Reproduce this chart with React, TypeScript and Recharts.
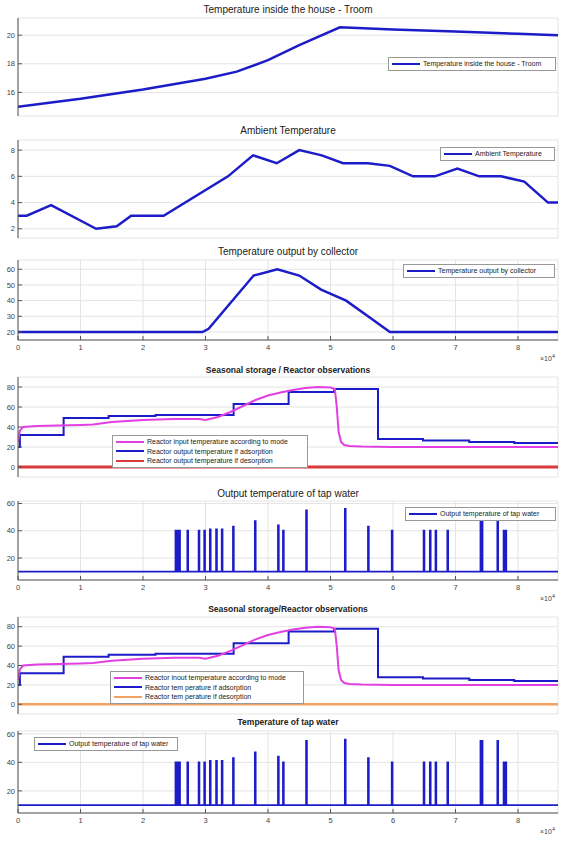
import React from 'react';
import { LineChart, Line, XAxis, YAxis, CartesianGrid } from 'recharts';

const X_MAX = 86400;
const xTicks = [0, 10000, 20000, 30000, 40000, 50000, 60000, 70000, 80000];

// Temperature inside the house
const troomTime = [0, 10000, 20000, 30000, 35000, 40000, 45000, 51500, 60000, 70000, 80000, 86400];
const troomTemp = [15.0, 15.55, 16.2, 16.95, 17.45, 18.25, 19.3, 20.55, 20.4, 20.25, 20.1, 20.0];

// Ambient temperature
const ambTime = [0, 1400, 5300, 12500, 15800, 18100, 23300, 33600, 37600, 41400, 45000, 48600, 52000, 56000, 59500, 63200, 66700, 70300, 73800, 77300, 81000, 84800, 86400];
const ambTemp = [3.0, 3.0, 3.8, 2.0, 2.2, 3.0, 3.0, 6.0, 7.6, 7.0, 8.0, 7.6, 7.0, 7.0, 6.8, 6.0, 6.0, 6.6, 6.0, 6.0, 5.6, 4.0, 4.0];

// Collector output
const colTime = [0, 29500, 30500, 37700, 41500, 45000, 48500, 52500, 56000, 59500, 86400];
const colTemp = [20, 20, 22, 56, 60, 56, 47, 40, 30, 20, 20];

// Reactor input temperature according to mode
const inTime = [0, 300, 800, 3000, 10000, 12000, 15000, 20000, 25000, 29000, 30000, 32000, 34000, 36000, 38000, 40000, 42000, 44000, 46000, 48000, 50000, 50700, 51000, 51300, 51700, 52200, 53000, 55000, 60000, 86400];
const inTemp = [25, 36, 40, 41, 42, 42.5, 45, 47, 48, 48, 47, 50, 55, 61, 67, 71.5, 74.5, 77, 79, 80, 79.5, 78, 60, 35, 25, 22, 21, 20.5, 20, 20];

// Reactor output temperature if adsorption (steps)
const adsTime = [0, 300, 7300, 14500, 22000, 34500, 43300, 50600, 57600, 64800, 72200, 79400, 86400];
const adsTemp = [20, 32, 49, 51, 52, 63, 75, 78, 28, 26.5, 25, 24, 24];

// Reactor output temperature if desorption
const desTime = [0, 86400];
const desTemp = [0, 0];

// Tap water draw-offs
const tapBase = 10;
const tapPulse = 120;
const tapTime = [25200, 25500, 25800, 27100, 28900, 29800, 30700, 31700, 32600, 34400, 37900, 41600, 42400, 46100, 52300, 56000, 59800, 64900, 65900, 66800, 68700, 74000, 74200, 76700, 77700, 78000];
const tapTemp = [40, 40, 40, 40, 40, 40, 41, 41, 41, 43, 47, 44, 40, 55, 56, 43, 40, 40, 40, 40, 40, 55, 55, 55, 40, 40];

const pts = (xs: number[], ys: number[]) => xs.map((x, i) => ({ x, y: ys[i] }));

const tapData = (() => {
  const out = [{ x: 0, y: tapBase }];
  tapTime.forEach((t, i) => {
    out.push({ x: t, y: tapBase }, { x: t, y: tapTemp[i] }, { x: t + tapPulse, y: tapTemp[i] }, { x: t + tapPulse, y: tapBase });
  });
  out.push({ x: X_MAX, y: tapBase });
  return out;
})();

const BLUE = '#1c1cc8';
const MAGENTA = '#e23fe2';
const RED = '#d93b3b';
const ORANGE = '#f2a262';
const AXIS = '#555';
const FONT = '"Liberation Sans", Arial, sans-serif';

type Series = { data: { x: number; y: number }[]; color: string; width: number; step?: boolean };
type LegendItem = { label: string; color: string; width: number };
type PanelProps = {
  top: number;
  bottom: number;
  domain: [number, number];
  yTicks: number[];
  title: string;
  titleY: number;
  bold?: boolean;
  xLabels?: boolean;
  series: Series[];
  legend: { left: number; top: number; width: number; items: LegendItem[] };
};

const Panel = ({ top, bottom, domain, yTicks, title, titleY, bold, xLabels, series, legend }: PanelProps) => {
  const boxH = bottom - top;
  const axisH = xLabels ? 24 : 0;
  const tickStyle = { fontSize: 7.5, fill: '#444', fontFamily: FONT };
  return (
    <>
      <div
        style={{
          position: 'absolute', left: 18, width: 540, top: titleY - 6, textAlign: 'center',
          fontFamily: FONT, fontSize: bold ? 8.5 : 10, fontWeight: bold ? 'bold' : 'normal',
          color: '#222', lineHeight: '12px', whiteSpace: 'nowrap',
        }}
      >
        {title}
      </div>
      <div style={{ position: 'absolute', left: 0, top }}>
        <LineChart width={563} height={boxH + axisH} margin={{ top: 0, right: 5, bottom: 0, left: 0 }}>
          <CartesianGrid stroke="#e4e4e4" />
          <XAxis
            dataKey="x" type="number" domain={[0, X_MAX]} ticks={xTicks} allowDataOverflow
            height={axisH} tickSize={-4} tickMargin={9} tick={xLabels ? tickStyle : false}
            tickFormatter={(v: number) => String(v / 10000)}
            stroke={AXIS} interval={0}
          />
          <XAxis xAxisId="top" orientation="top" dataKey="x" type="number" domain={[0, X_MAX]} ticks={xTicks}
            height={0} tickSize={-4} tick={false} stroke={AXIS} interval={0} />
          <YAxis type="number" domain={domain} ticks={yTicks} allowDataOverflow width={18}
            tickSize={-4} tickMargin={7} tick={tickStyle} stroke={AXIS} interval={0} />
          <YAxis yAxisId="r" orientation="right" type="number" domain={domain} ticks={yTicks} allowDataOverflow
            width={0} tickSize={-4} tick={false} stroke={AXIS} interval={0} />
          {series.map((s, i) => (
            <Line key={i} data={s.data} dataKey="y" type={s.step ? 'stepAfter' : 'linear'} stroke={s.color}
              strokeWidth={s.width} dot={false} activeDot={false} isAnimationActive={false} />
          ))}
        </LineChart>
      </div>
      {xLabels && (
        <div style={{ position: 'absolute', left: 540, top: bottom + 13, fontFamily: FONT, fontSize: 7, color: '#444' }}>
          ×10<sup style={{ fontSize: 5.5 }}>4</sup>
        </div>
      )}
      <div
        style={{
          position: 'absolute', left: legend.left, top: legend.top, width: legend.width,
          background: '#fff', border: '1px solid #999', padding: '1px 0', boxSizing: 'border-box',
        }}
      >
        {legend.items.map((it, i) => (
          <div key={i} style={{ display: 'flex', alignItems: 'center', height: 9.5 }}>
            <div style={{ width: 28, height: it.width, background: it.color, marginLeft: 3, marginRight: 3 }} />
            <span style={{ fontFamily: FONT, fontSize: 7, color: '#222', whiteSpace: 'nowrap' }}>{it.label}</span>
          </div>
        ))}
      </div>
    </>
  );
};

const App = () => {
  const tap: Series[] = [{ data: tapData, color: BLUE, width: 1.8 }];
  return (
    <div style={{ position: 'absolute', left: 0, top: 0, width: 563, height: 841, background: '#fff', overflow: 'hidden' }}>
      <style>{'.recharts-surface{overflow:visible}'}</style>
      <Panel
        top={18} bottom={116} domain={[14.35, 21.2]} yTicks={[16, 18, 20]}
        title="Temperature inside the house - Troom" titleY={10}
        series={[{ data: pts(troomTime, troomTemp), color: BLUE, width: 2.5 }]}
        legend={{ left: 388, top: 57, width: 168, items: [{ label: 'Temperature inside the house - Troom', color: BLUE, width: 2 }] }}
      />
      <Panel
        top={140} bottom={238} domain={[1.3, 8.77]} yTicks={[2, 4, 6, 8]}
        title="Ambient Temperature" titleY={131}
        series={[{ data: pts(ambTime, ambTemp), color: BLUE, width: 2.5 }]}
        legend={{ left: 440, top: 147, width: 115, items: [{ label: 'Ambient Temperature', color: BLUE, width: 2 }] }}
      />
      <Panel
        top={260} bottom={340} domain={[14.9, 65.9]} yTicks={[20, 30, 40, 50, 60]}
        title="Temperature output by collector" titleY={252} xLabels
        series={[{ data: pts(colTime, colTemp), color: BLUE, width: 2.5 }]}
        legend={{ left: 403, top: 264, width: 152, items: [{ label: 'Temperature output by collector', color: BLUE, width: 2 }] }}
      />
      <Panel
        top={377} bottom={477} domain={[-10, 90]} yTicks={[0, 20, 40, 60, 80]}
        title="Seasonal storage / Reactor observations" titleY={370} bold
        series={[
          { data: pts(desTime, desTemp), color: RED, width: 3 },
          { data: pts(adsTime, adsTemp), color: BLUE, width: 2, step: true },
          { data: pts(inTime, inTemp), color: MAGENTA, width: 2 },
        ]}
        legend={{
          left: 112, top: 435, width: 196, items: [
            { label: 'Reactor input temperature according to mode', color: MAGENTA, width: 2 },
            { label: 'Reactor output temperature if adsorption', color: BLUE, width: 2 },
            { label: 'Reactor output temperature if desorption', color: RED, width: 2 },
          ],
        }}
      />
      <Panel
        top={501} bottom={580} domain={[3.9, 61.8]} yTicks={[20, 40, 60]}
        title="Output temperature of tap water" titleY={494} xLabels
        series={tap}
        legend={{ left: 405, top: 507, width: 151, items: [{ label: 'Output temperature of tap water', color: BLUE, width: 2 }] }}
      />
      <Panel
        top={617} bottom={714} domain={[-10, 90]} yTicks={[0, 20, 40, 60, 80]}
        title="Seasonal storage/Reactor observations" titleY={609} bold
        series={[
          { data: pts(desTime, desTemp), color: ORANGE, width: 2.5 },
          { data: pts(adsTime, adsTemp), color: BLUE, width: 2, step: true },
          { data: pts(inTime, inTemp), color: MAGENTA, width: 2 },
        ]}
        legend={{
          left: 110, top: 671, width: 194, items: [
            { label: 'Reactor inout temperature according to mode', color: MAGENTA, width: 2 },
            { label: 'Reactor tem perature if adsorption', color: BLUE, width: 2 },
            { label: 'Reactor tem perature if desorption', color: ORANGE, width: 2 },
          ],
        }}
      />
      <Panel
        top={731} bottom={813} domain={[4.5, 62]} yTicks={[20, 40, 60]}
        title="Temperature of tap water" titleY={722} bold xLabels
        series={tap}
        legend={{ left: 34, top: 737, width: 144, items: [{ label: 'Output temperature of tap water', color: BLUE, width: 2 }] }}
      />
    </div>
  );
};

export default App;
